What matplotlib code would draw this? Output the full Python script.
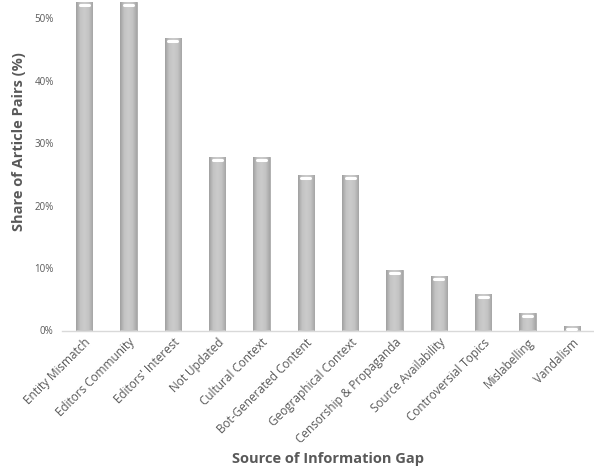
import numpy as np
import matplotlib
matplotlib.use('Agg')
import matplotlib.pyplot as plt
from matplotlib.colors import LinearSegmentedColormap
from matplotlib.transforms import offset_copy

# data
categories = ['Entity Mismatch', 'Editors Community', "Editors' Interest", 'Not Updated',
              'Cultural Context', 'Bot-Generated Content', 'Geographical Context',
              'Censorship & Propaganda', 'Source Availability', 'Controversial Topics',
              'Mislabelling', 'Vandalism']
shares = [52.7, 52.7, 46.8, 27.8, 27.8, 24.9, 24.9, 9.7, 8.8, 5.8, 2.8, 0.7]
yticks = [0, 10, 20, 30, 40, 50]

plt.rcParams['font.family'] = ['Open Sans', 'DejaVu Sans']
text_col = '#595959'

fig = plt.figure(figsize=(5.94, 4.69), dpi=100)
ax = fig.add_axes([62 / 594, 138.5 / 469, 532 / 594, 330.5 / 469])

x = np.arange(len(categories))
bw = 0.37
bars = ax.bar(x, shares, width=bw, color='#c6c6c6', edgecolor='#a9a9a9', linewidth=0.6, zorder=2)

# horizontal shading inside each bar
shade = LinearSegmentedColormap.from_list('shade', ['#a0a0a0', '#c4c4c4', '#cbcbcb', '#c4c4c4', '#a6a6a6'])
grad = np.linspace(0, 1, 64).reshape(1, -1)
for b in bars:
    x0, y0 = b.get_x(), b.get_y()
    im = ax.imshow(grad, cmap=shade, aspect='auto', zorder=2.5,
                   extent=(x0, x0 + b.get_width(), y0, y0 + b.get_height()))
    im.set_clip_path(b)

# little white highlight at the top of each bar
hl = offset_copy(ax.transData, fig=fig, y=-3, units='dots')
for xi, v in zip(x, shares):
    ax.plot([xi - bw * 0.28, xi + bw * 0.28], [v, v], color='white', lw=2.2,
            solid_capstyle='round', transform=hl, zorder=3)

ax.set_xlim(-0.5, len(categories) - 0.5)
ax.set_ylim(0, 52.96)
ax.set_yticks(yticks)
ax.set_yticklabels([f'{t}%' for t in yticks])
ax.set_xticks(x)
ax.set_xticklabels(categories, rotation=45, ha='right', rotation_mode='anchor')
ax.tick_params(axis='y', length=0, pad=6, labelsize=7, labelcolor=text_col)
ax.tick_params(axis='x', length=0, pad=4, labelsize=8.5, labelcolor=text_col)

for s in ['top', 'right', 'left']:
    ax.spines[s].set_visible(False)
ax.spines['bottom'].set_color('#d9d9d9')
ax.spines['bottom'].set_linewidth(1)

ax.set_ylabel('Share of Article Pairs (%)', fontsize=10.5, fontweight='bold', color=text_col)
ax.yaxis.set_label_coords(-0.068, 0.572)
ax.set_xlabel('Source of Information Gap', fontsize=10.5, fontweight='bold', color=text_col, labelpad=4)

fig.savefig('out.png', dpi=100)
plt.close('all')
